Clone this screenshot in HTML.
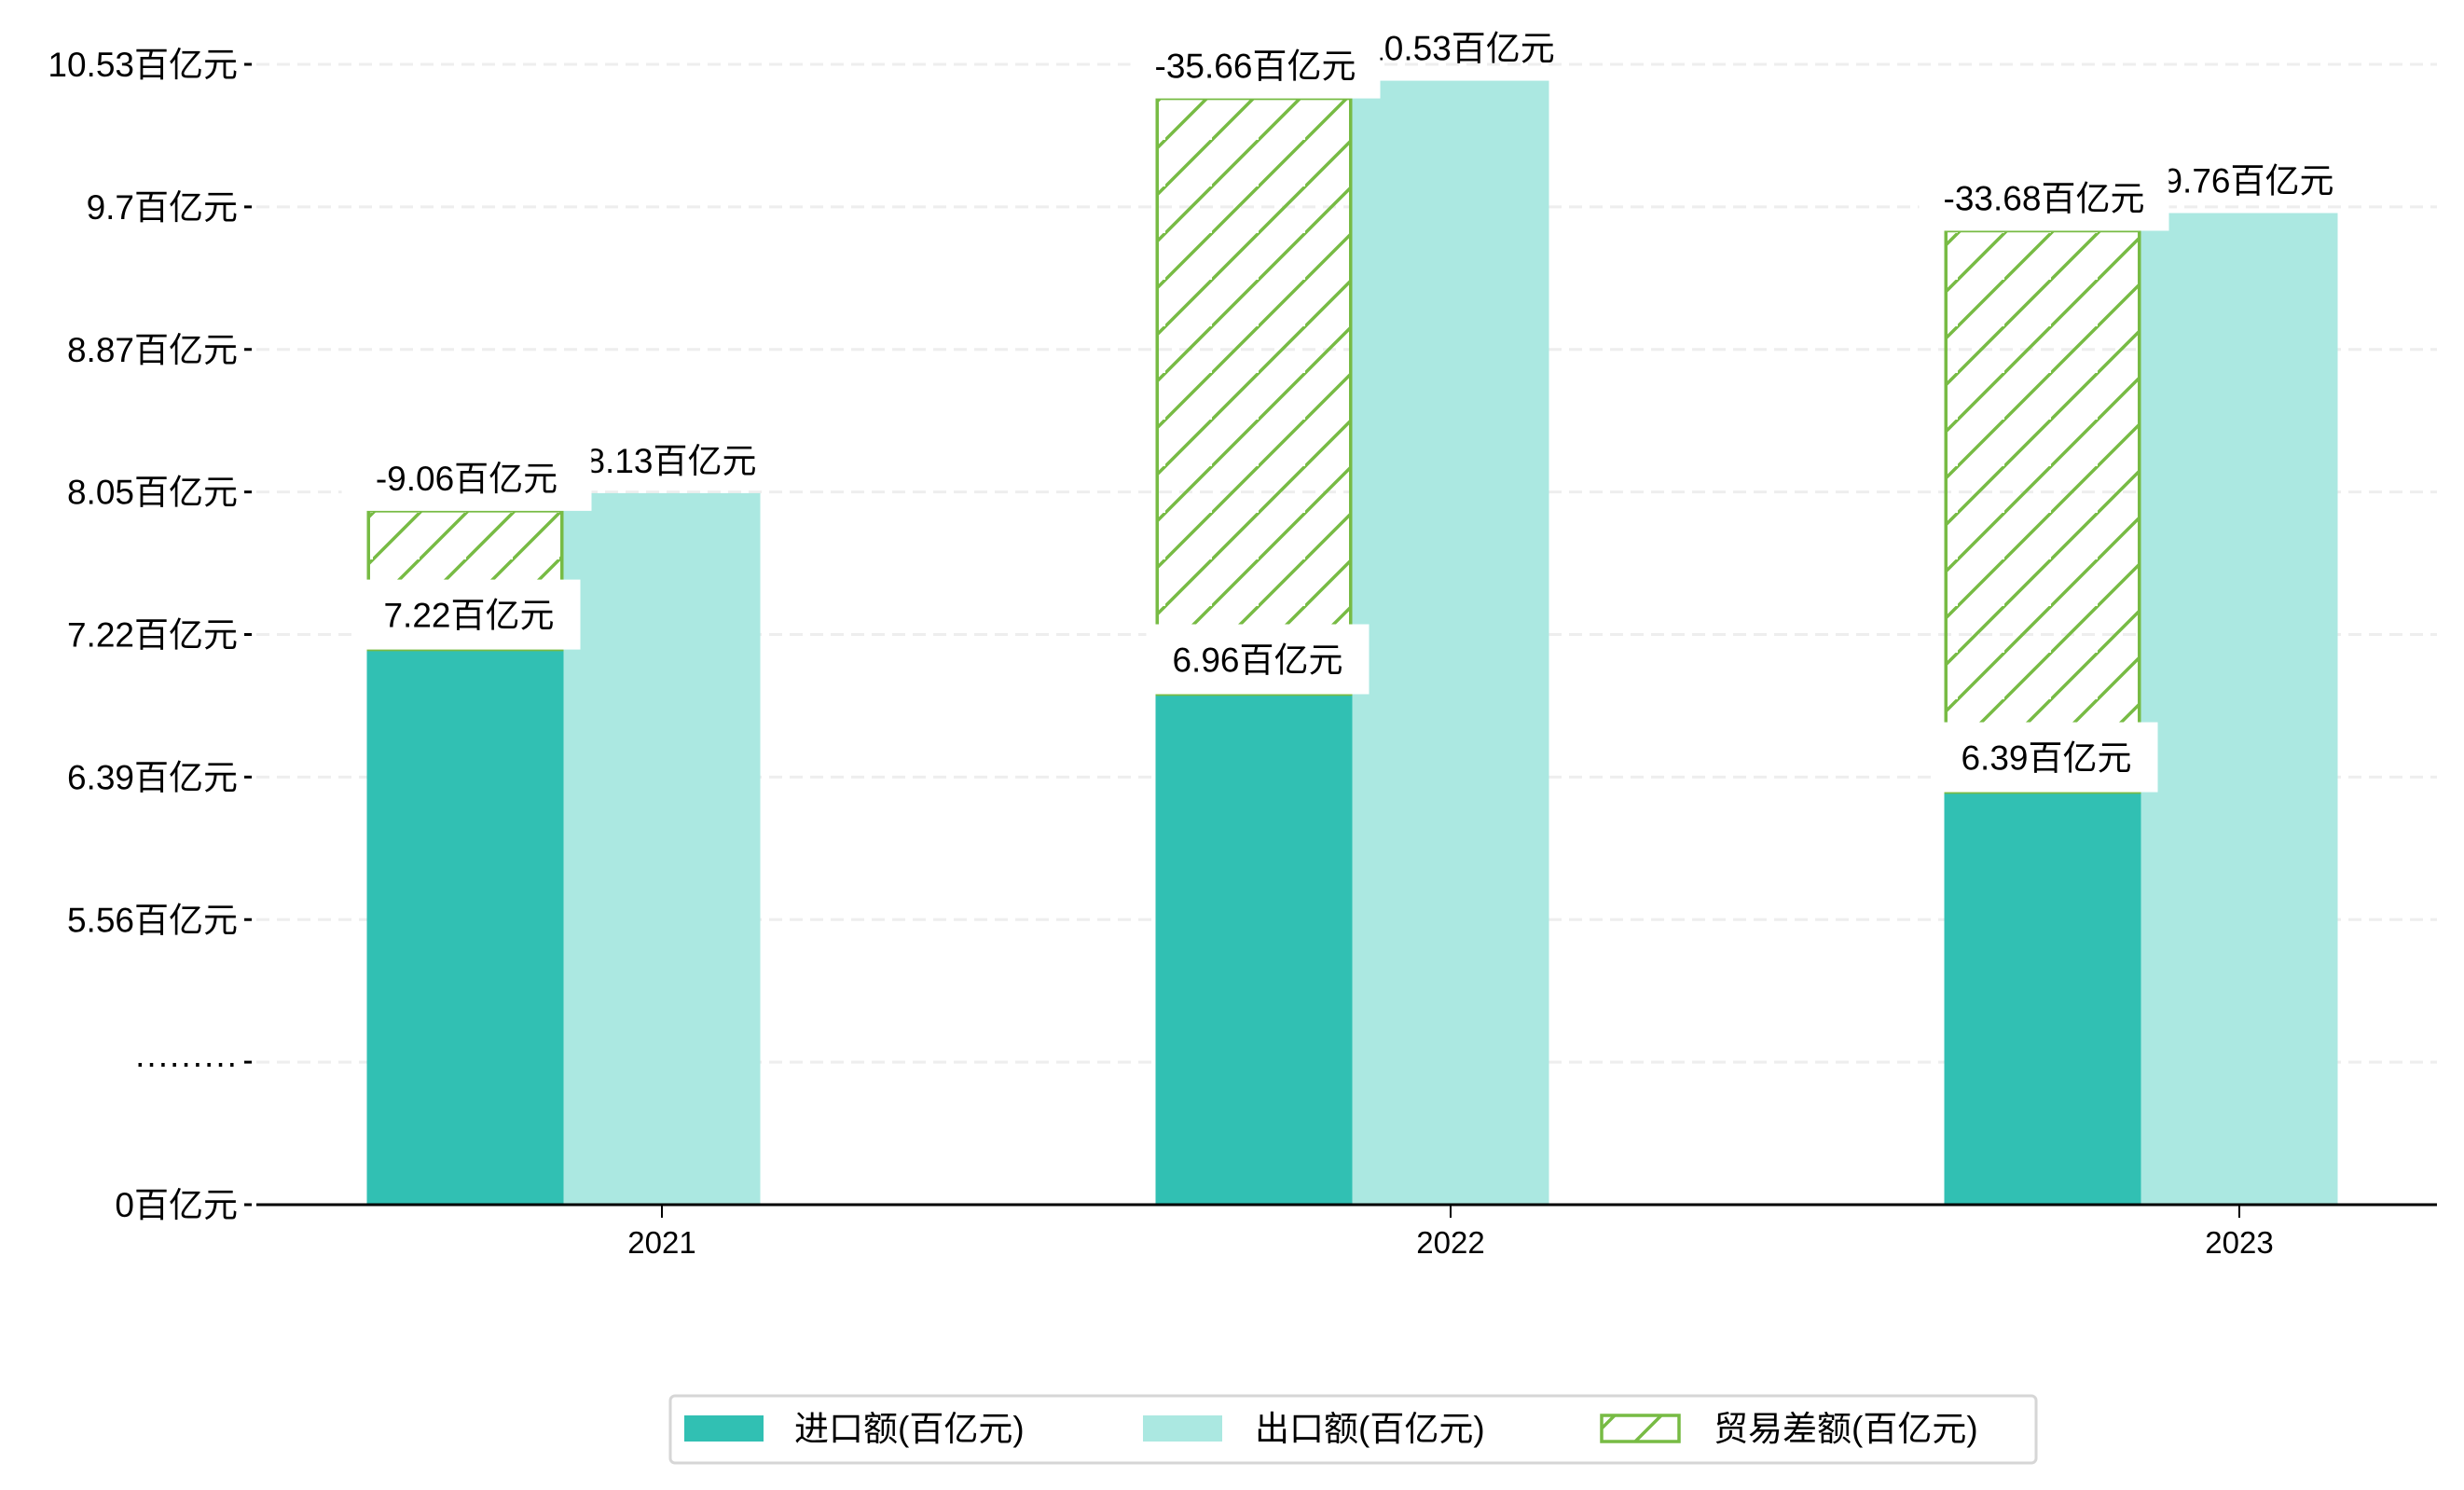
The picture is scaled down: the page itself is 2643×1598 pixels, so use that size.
<!DOCTYPE html>
<html><head><meta charset="utf-8">
<style>
html,body{margin:0;padding:0;background:#fff;}
svg{display:block;font-family:"Liberation Sans","Noto Sans CJK SC",sans-serif;}
</style></head>
<body>
<svg id="chart" width="2643" height="1598" viewBox="0 0 2643 1598" xmlns="http://www.w3.org/2000/svg">
<defs>
<pattern id="hatch" patternUnits="userSpaceOnUse" width="50" height="50">
<path d="M-5,55 L55,-5 M-55,55 L5,-5 M45,105 L105,45" stroke="#77bb44" stroke-width="3.5"/>
</pattern>
</defs>
<g id="grid"></g><g id="bars"></g><g id="labels"></g><g id="axes"></g>
<g id="legend">
<rect x="719" y="1497" width="1465" height="72" rx="5" fill="#fff" stroke="#d6d6d6" stroke-width="3"/>
<rect x="734" y="1518" width="85" height="28" fill="#31c0b3"/>
<text x="852" y="1545" font-size="37">进口额(百亿元)</text>
<rect x="1226" y="1518" width="85" height="28" fill="#abe8e1"/>
<text x="1346" y="1545" font-size="37">出口额(百亿元)</text>
<rect x="1718" y="1518" width="83" height="28" fill="url(#hatch)" stroke="#77bb44" stroke-width="3.5"/>
<text x="1838" y="1545" font-size="37">贸易差额(百亿元)</text>
</g>
</svg>
<script>
const years = ["2021","2022","2023"];
const importVals = [7.22, 6.96, 6.39];
const exportVals = [8.13, 10.53, 9.76];
const balanceVals = [-9.06, -35.66, -33.68];
const tickLabels = ["10.53百亿元","9.7百亿元","8.87百亿元","8.05百亿元","7.22百亿元","6.39百亿元","5.56百亿元","·········","0百亿元"];

const NS="http://www.w3.org/2000/svg";
const X0=275, X1=2614, BASE=1292, BW=211;
function xCenter(i){return 710+i*846;}
function yScale(v){return 696.6-(v-7.22)*184.3;}
function tickY(i){return 69+i*(BASE-69)/(tickLabels.length-1);}
function mk(tag,attrs,parent,txt){const e=document.createElementNS(NS,tag);for(const k in attrs)e.setAttribute(k,attrs[k]);if(txt!==undefined)e.textContent=txt;parent.appendChild(e);return e;}
const grid=document.getElementById('grid'),bars=document.getElementById('bars'),labels=document.getElementById('labels'),axes=document.getElementById('axes');

tickLabels.forEach((t,i)=>{
  const y=tickY(i);
  if(i<tickLabels.length-1){
    const g=mk('line',{x1:X0,x2:X1,y1:y,y2:y,stroke:'#eeeeee','stroke-width':3,'stroke-dasharray':'14,8'},grid);
    
    
  }
  const tk=mk('line',{x1:X0-13,x2:X0-5,y1:y,y2:y,stroke:'#000','stroke-width':3},axes);
  
  
  const lb=mk('text',{x:X0-20,y:y+13,'font-size':37,'text-anchor':'end'},axes,t);
  
  
});

years.forEach((yr,i)=>{
  const c=xCenter(i);
  const impX=c-BW*1.5, expX=c-BW*0.5;
  const yi=yScale(importVals[i]), ye=yScale(exportVals[i]);
  const b1=mk('rect',{x:impX,y:yi,width:BW,height:BASE-yi,fill:'#31c0b3'},bars);
  
  
  const b2=mk('rect',{x:expX,y:ye,width:BW,height:BASE-ye,fill:'#abe8e1'},bars);
  
  
  const yb=ye+19;
  const b3=mk('rect',{x:impX+1.75,y:yb,width:BW-3.5,height:yi-yb,fill:'url(#hatch)',stroke:'#77bb44','stroke-width':3.5},bars);
  
  

  const et=mk('text',{x:expX+BW/2+10,y:ye-22,'font-size':37,'text-anchor':'middle'},labels,exportVals[i]+'百亿元');
  
  
  const bbw=268;
  const bb=mk('rect',{x:impX-27,y:yb-68,width:bbw,height:68,fill:'#fff'},labels);
  
  
  const bt=mk('text',{x:impX-27+bbw/2,y:yb-22,'font-size':37,'text-anchor':'middle'},labels,balanceVals[i]+'百亿元');
  
  
  const ib=mk('rect',{x:impX-10,y:yi-75,width:239,height:75,fill:'#fff'},labels);
  
  
  const it=mk('text',{x:impX-10+119.5,y:yi-24,'font-size':37,'text-anchor':'middle'},labels,importVals[i]+'百亿元');
  
  

  const xt=mk('line',{x1:c,x2:c,y1:BASE,y2:BASE+14,stroke:'#000','stroke-width':2},axes);
  
  
  const xl=mk('text',{x:c,y:BASE+52,'font-size':33,'text-anchor':'middle'},axes,yr);
  
  
});
const ax=mk('line',{x1:X0,x2:X1,y1:BASE,y2:BASE,stroke:'#000','stroke-width':3},axes);


</script>
</body></html>
